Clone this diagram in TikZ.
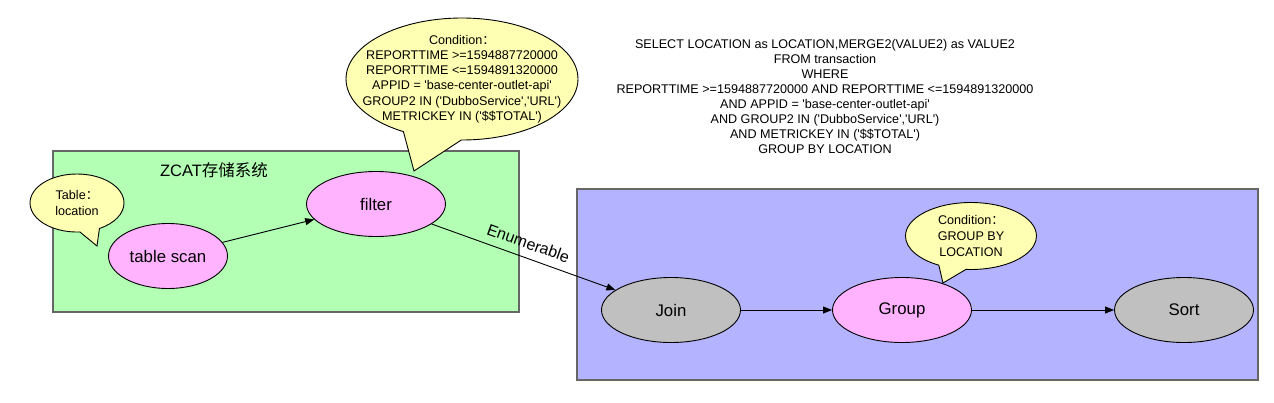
\documentclass[tikz,border=0pt]{standalone}
\usepackage{fontspec}
\setmainfont{Liberation Sans}[Ligatures=TeXOff]
\newfontfamily\cjk{Noto Sans CJK SC}
\usetikzlibrary{positioning,shapes.geometric,shapes.callouts,arrows.meta}

\definecolor{zonegreen}{HTML}{B3FFB3}
\definecolor{zoneblue}{HTML}{B3B3FF}
\definecolor{zoneedge}{HTML}{666666}
\definecolor{nodepink}{HTML}{FFB3FF}
\definecolor{nodegray}{HTML}{C0C0C0}
\definecolor{tipyellow}{HTML}{FFFFB3}

\begin{document}
\begin{tikzpicture}[x=1pt, y=-1pt, >={Triangle[length=9pt,width=7pt]}, line width=0.9pt, on grid,
    zone/.style={draw=zoneedge, line width=1.5pt, inner sep=0pt},
    op/.style={ellipse, draw, minimum width=139pt, minimum height=65pt, font=\fontsize{16.8}{19}\selectfont},
    tip/.style={ellipse callout, draw, fill=tipyellow, align=center, inner xsep=-20pt, inner ysep=-8pt,
                callout pointer arc=25, font=\fontsize{12.6}{15.2}\selectfont}]
   \useasboundingbox (0,0) rectangle (1274,402);

   % the two systems
   \node[zone, fill=zonegreen, minimum width=466pt, minimum height=161pt] (zcat)   at (286,231.5) {};
   \node[zone, fill=zoneblue,  minimum width=681pt, minimum height=191pt] (engine) at (917.5,284.5) {};
   \node[font=\fontsize{16.5}{19}\selectfont] (zcattitle) at (214,170) {ZCAT{\cjk 存储系统}};

   % operators
   \node[op, fill=nodepink, minimum width=119pt] (tscan) at (168,256)            {table scan};
   \node[op, fill=nodepink] (filter) [above right=52pt and 208pt of tscan]      {filter};
   \node[op, fill=nodegray] (join)   at (671,310)                               {Join};
   \node[op, fill=nodepink] (group)  [right=231pt of join]                      {Group};
   \node[op, fill=nodegray] (sort)   [right=282pt of group]                     {Sort};

   % conditions
   \coordinate (ttip) at (97,246);
   \coordinate (ftip) at (414,171);
   \coordinate (gtip) at (943,283);
   \node[tip, minimum width=94pt, minimum height=58pt, callout absolute pointer=(ttip),
         font=\fontsize{12.6}{16}\selectfont] (ctable) at (77,203) {Table{\cjk ：}\\location};
   \node[tip, minimum width=232pt, minimum height=122pt, callout pointer arc=30,
         callout absolute pointer=(ftip)] (cfilter) at (462,79)
        {Condition{\cjk ：}\\REPORTTIME >=1594887720000\\REPORTTIME <=1594891320000\\
         APPID = 'base-center-outlet-api'\\GROUP2 IN ('DubboService','URL')\\METRICKEY IN ('\$\$TOTAL')};
   \node[tip, minimum width=131pt, minimum height=67pt, callout absolute pointer=(gtip),
         font=\fontsize{12.6}{16}\selectfont] (cgroup) at (971,236) {Condition{\cjk ：}\\GROUP BY\\LOCATION};

   % query
   \node[align=center, font=\fontsize{12.6}{15}\selectfont] (sql) at (825,96)
        {SELECT LOCATION as LOCATION,MERGE2(VALUE2) as VALUE2\\FROM transaction\\WHERE\\
         REPORTTIME >=1594887720000 AND REPORTTIME <=1594891320000\\AND APPID = 'base-center-outlet-api'\\
         AND GROUP2 IN ('DubboService','URL')\\AND METRICKEY IN ('\$\$TOTAL')\\GROUP BY LOCATION};

   \path (tscan)  edge [->] (filter)
         (filter) edge [->] node [sloped, above=5pt, font=\fontsize{16}{19}\selectfont] {Enumerable} (join)
         (join)   edge [->] (group)
         (group)  edge [->] (sort);
\end{tikzpicture}
\end{document}
